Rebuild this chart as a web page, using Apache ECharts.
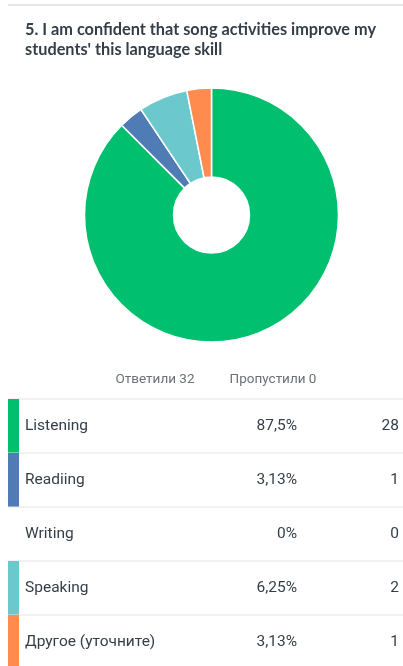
<!DOCTYPE html>
<html>
<head>
<meta charset="utf-8">
<script src="https://cdn.jsdelivr.net/npm/echarts@6/dist/echarts.min.js"></script>
<style>
  html, body { margin: 0; padding: 0; background: #fff; }
  #chart { width: 403px; height: 666px; }
</style>
</head>
<body>
<div id="chart"></div>
<script>
// data
var categories = ['Listening', 'Readiing', 'Writing', 'Speaking', 'Другое (уточните)'];
var counts = [28, 1, 0, 2, 1];
var percents = ['87,5%', '3,13%', '0%', '6,25%', '3,13%'];
var colors = ['#00bf6f', '#507cb6', '#f9be00', '#6bc8cd', '#ff8b4f'];
var answered = 32;
var skipped = 0;
var titleText = "5. I am confident that song activities improve my\nstudents' this language skill";

var chart = echarts.init(document.getElementById('chart'));

// table layout
var rowTop = 399, rowH = 54;
var graphics = [];
graphics.push({ type: 'line', shape: { x1: 8, y1: 5, x2: 403, y2: 5 }, style: { stroke: '#e6e6e6', lineWidth: 2 } });
graphics.push({ type: 'text', left: 25, top: 20, style: { text: titleText, font: 'bold 16.3px Lato', fill: '#333e48', lineHeight: 20 } });
graphics.push({ type: 'text', x: 155, y: 380, style: { text: 'Ответили ' + answered, font: '13.5px Roboto', fill: '#6b7178', align: 'center', verticalAlign: 'middle' } });
graphics.push({ type: 'text', x: 273, y: 380, style: { text: 'Пропустили ' + skipped, font: '13.5px Roboto', fill: '#6b7178', align: 'center', verticalAlign: 'middle' } });

categories.forEach(function (name, i) {
  var y0 = rowTop + i * rowH;
  graphics.push({ type: 'line', shape: { x1: 8, y1: y0, x2: 403, y2: y0 }, style: { stroke: '#e3e3e3', lineWidth: 1 } });
  if (counts[i] > 0) {
    graphics.push({ type: 'rect', shape: { x: 8, y: y0, width: 11, height: rowH }, style: { fill: colors[i] } });
  }
  var cy = y0 + rowH / 2;
  graphics.push({ type: 'text', x: 25, y: cy, style: { text: name, font: '15.5px Roboto', fill: '#333e48', verticalAlign: 'middle' } });
  graphics.push({ type: 'text', x: 297, y: cy, style: { text: percents[i], font: '15.5px Roboto', fill: '#333e48', align: 'right', verticalAlign: 'middle' } });
  graphics.push({ type: 'text', x: 399, y: cy, style: { text: String(counts[i]), font: '15.5px Roboto', fill: '#333e48', align: 'right', verticalAlign: 'middle' } });
});

chart.setOption({
  animation: false,
  graphic: graphics,
  series: [{
    type: 'pie',
    center: [211.5, 215],
    radius: [38, 127],
    startAngle: 90,
    clockwise: true,
    label: { show: false },
    labelLine: { show: false },
    itemStyle: { borderColor: '#fff', borderWidth: 1.5 },
    emphasis: { disabled: true },
    data: categories.map(function (name, i) {
      return { name: name, value: counts[i], itemStyle: { color: colors[i] } };
    })
  }]
});
</script>
</body>
</html>
